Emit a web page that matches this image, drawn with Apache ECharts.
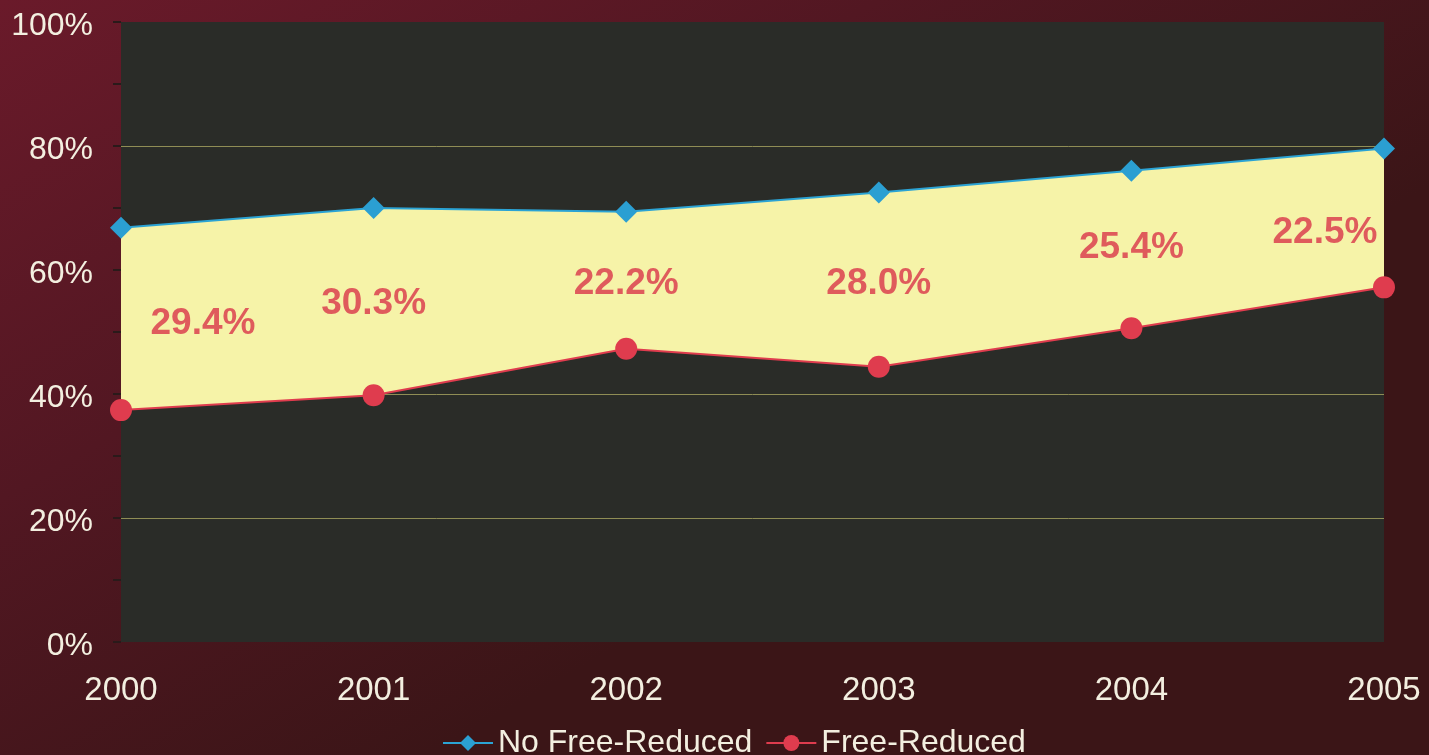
<!DOCTYPE html>
<html><head><meta charset="utf-8">
<script src="https://cdn.jsdelivr.net/npm/echarts@6/dist/echarts.min.js"></script>
<style>html,body{margin:0;padding:0;background:#4a1520;}#c{width:1429px;height:755px;}</style>
</head><body><div id="c"></div>
<script>
const years = ['2000','2001','2002','2003','2004','2005'];
const noFreeReduced = [66.8, 70.0, 69.4, 72.5, 76.0, 79.6];
const freeReduced = [37.4, 39.8, 47.3, 44.4, 50.6, 57.2];
const gapLabels = ['29.4%','30.3%','22.2%','28.0%','25.4%','22.5%'];

const diff = noFreeReduced.map((v,i)=> +(v - freeReduced[i]).toFixed(2));
const mid = noFreeReduced.map((v,i)=> (v + freeReduced[i]) / 2);
const labelOffsets = [[82,5],[0,2],[0,4],[0,4],[0,-2],[-59,15]];

const chart = echarts.init(document.getElementById('c'));
chart.setOption({
  backgroundColor: {
    type:'linear', x:0, y:0, x2:0.3, y2:1,
    colorStops:[{offset:0,color:'#6a1a2a'},{offset:0.5,color:'#521722'},{offset:1,color:'#3b1517'}]
  },
  textStyle:{fontFamily:'Liberation Sans, Arial, sans-serif'},
  grid:{left:121,right:45,top:22,bottom:113,show:true,backgroundColor:'#2a2c28',borderWidth:0},
  legend:{
    top:722, left:437, itemWidth:50, itemHeight:20, itemGap:13,
    textStyle:{color:'#f3efe0',fontSize:32},
    data:['No Free-Reduced','Free-Reduced']
  },
  xAxis:{
    type:'category', data:years, boundaryGap:false,
    axisLine:{show:false}, axisTick:{show:false},
    axisLabel:{color:'#f3efe0',fontSize:33,margin:32}
  },
  yAxis:{
    type:'value', min:0, max:100, interval:20,
    axisLine:{show:false},
    axisTick:{show:true,length:8,lineStyle:{color:'#2a1a1a',width:2}},
    minorTick:{show:true,splitNumber:2,length:8,lineStyle:{color:'#2a1a1a',width:2}},
    splitLine:{show:true,showMinLine:false,showMaxLine:false,lineStyle:{color:'#8f8d55',width:1}},
    axisLabel:{color:'#f3efe0',fontSize:32,margin:28,verticalAlign:'top',lineHeight:8,formatter:v=>v+'%'}
  },
  series:[
    {name:'_base',type:'line',stack:'g',data:freeReduced,symbol:'none',lineStyle:{opacity:0},silent:true,z:1},
    {name:'_band',type:'line',stack:'g',data:diff,symbol:'none',lineStyle:{opacity:0},
      areaStyle:{color:'#f6f3a8',opacity:1},silent:true,z:1},
    {name:'No Free-Reduced',type:'line',data:noFreeReduced,symbol:'diamond',symbolSize:[22,22],
      itemStyle:{color:'#2b9fd2'},lineStyle:{color:'#2ba3d4',width:2},z:5},
    {name:'Free-Reduced',type:'line',data:freeReduced,symbol:'circle',symbolSize:22,
      itemStyle:{color:'#df3c4e'},lineStyle:{color:'#df3c4e',width:2},z:5},
    {name:'_labels',type:'scatter',symbolSize:0,silent:true,z:6,
      data: mid.map((v,i)=>({value:v,label:{offset:labelOffsets[i]}})),
      label:{show:true,position:'inside',color:'#d93448',fontSize:37,fontWeight:'bold',
        formatter:p=>gapLabels[p.dataIndex]}}
  ]
});
</script></body></html>
